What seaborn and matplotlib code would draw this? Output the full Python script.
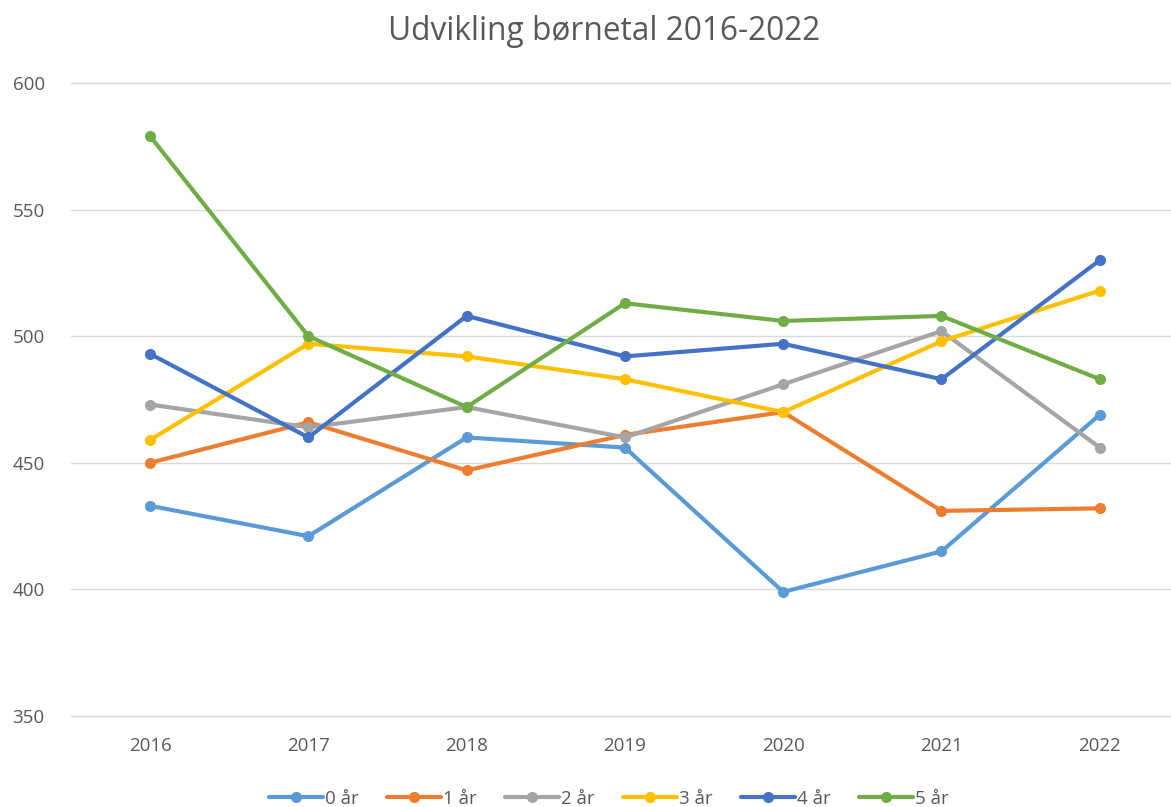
import numpy as np
import pandas as pd
import matplotlib
matplotlib.use("Agg")
import matplotlib.pyplot as plt
import seaborn as sns

# data
years = ["2016", "2017", "2018", "2019", "2020", "2021", "2022"]
age_0 = [433, 421, 460, 456, 399, 415, 469]
age_1 = [450, 466, 447, 461, 470, 431, 432]
age_2 = [473, 464, 472, 460, 481, 502, 456]
age_3 = [459, 497, 492, 483, 470, 498, 518]
age_4 = [493, 460, 508, 492, 497, 483, 530]
age_5 = [579, 500, 472, 513, 506, 508, 483]
labels = ["0 år", "1 år", "2 år", "3 år", "4 år", "5 år"]
colors = ["#5B9BD5", "#ED7D31", "#A5A5A5", "#FFC000", "#4472C4", "#70AD47"]

series = [age_0, age_1, age_2, age_3, age_4, age_5]
df = pd.DataFrame({
    "year": years * len(labels),
    "count": np.concatenate(series),
    "age": np.repeat(labels, len(years)),
})

sns.set_style("white")
plt.rcParams["font.family"] = ["Open Sans", "DejaVu Sans"]
text_col = "#595959"

fig = plt.figure(figsize=(11.71, 8.07), dpi=100)
ax = fig.add_axes([0.0606, 0.1128, 0.9394, 0.7844])

sns.lineplot(data=df, x="year", y="count", hue="age", palette=colors,
             marker="o", markersize=8, markeredgewidth=0, linewidth=3,
             ax=ax, sort=False)

ax.set_xlim(-0.5, 6.45)
ax.set_ylim(350, 600)
ax.set_yticks([350, 400, 450, 500, 550, 600])
ax.yaxis.grid(True, color="#D9D9D9", linewidth=1)
for g in ax.yaxis.get_gridlines():
    g.set_clip_on(False)
ax.set_axisbelow(True)
for s in ax.spines.values():
    s.set_visible(False)
ax.tick_params(axis="both", length=0, labelsize=13.5, labelcolor=text_col)
ax.tick_params(axis="x", pad=15)
ax.tick_params(axis="y", pad=42)
for lbl in ax.get_yticklabels():
    lbl.set_horizontalalignment("left")
ax.set_xlabel("")
ax.set_ylabel("")

fig.suptitle("Udvikling børnetal 2016-2022", x=0.516, y=0.981, fontsize=22.8,
             color=text_col)

handles, lab = ax.get_legend_handles_labels()
ax.legend_.remove()
fig.legend(handles, lab, loc="lower center", bbox_to_anchor=(0.52, -0.022),
           ncol=6, frameon=False, fontsize=13.5, labelcolor=text_col,
           handlelength=2.9, handletextpad=0.1, columnspacing=1.5)

fig.savefig("out.png", dpi=100, facecolor="white")
